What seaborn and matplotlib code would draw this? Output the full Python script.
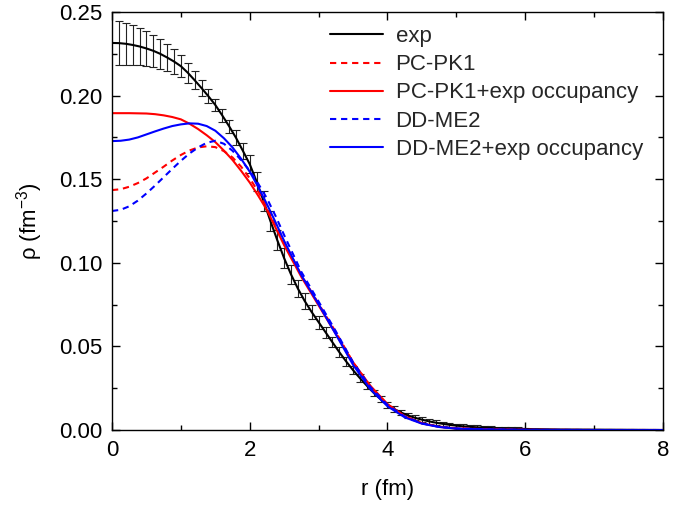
import numpy as np
import pandas as pd
import matplotlib
matplotlib.use("Agg")
import matplotlib.pyplot as plt
import seaborn as sns
from matplotlib.ticker import MultipleLocator, FormatStrFormatter

# experimental density, read every 0.1 fm from 0 to 6 fm
exp_r = np.round(np.arange(0, 6.01, 0.1), 1)
exp_rho = [0.2315, 0.2314, 0.2310, 0.2303, 0.2294, 0.2282, 0.2268, 0.2250, 0.2228, 0.2204,
           0.2176, 0.2137, 0.2092, 0.2045, 0.1996, 0.1944, 0.1882, 0.1817, 0.1748, 0.1670,
           0.1590, 0.1485, 0.1370, 0.1250, 0.1135, 0.1027, 0.0930, 0.0845, 0.0770, 0.0705,
           0.0645, 0.0585, 0.0525, 0.0466, 0.0410, 0.0358, 0.0310, 0.0265, 0.0222, 0.0184,
           0.0151, 0.0125, 0.0104, 0.0087, 0.0073, 0.0062, 0.0052, 0.0044, 0.0037, 0.0031,
           0.0026, 0.0022, 0.0019, 0.0016, 0.0014, 0.0012, 0.0010, 0.0009, 0.0008, 0.0007,
           0.0006]
# tail of the exp curve
exp_tail_r = [6.5, 7.0, 7.5, 8.0]
exp_tail_rho = [0.0003, 0.0002, 0.0001, 0.0]

# error bars from 0.1 fm to 6.0 fm
exp_err = [0.0132, 0.0125, 0.0118, 0.0111, 0.0104, 0.0097, 0.0089, 0.0081, 0.0073, 0.0066,
           0.0059, 0.0053, 0.0047, 0.0042, 0.0038, 0.0038, 0.0040, 0.0044, 0.0049, 0.0053,
           0.0057, 0.0060, 0.0061, 0.0061, 0.0059, 0.0056, 0.0052, 0.0047, 0.0042, 0.0038,
           0.0034, 0.0031, 0.0028, 0.0026, 0.0024, 0.0022, 0.0021, 0.0020, 0.0019, 0.0018,
           0.0017, 0.0016, 0.0016, 0.0015, 0.0015, 0.0014, 0.0014, 0.0013, 0.0013, 0.0012,
           0.0012, 0.0011, 0.0011, 0.0010, 0.0010, 0.0009, 0.0009, 0.0008, 0.0008, 0.0007]

# model curves
r_model = [0, 0.125, 0.25, 0.375, 0.5, 0.625, 0.75, 0.875, 1.0, 1.125, 1.25, 1.375,
           1.5, 1.625, 1.75, 1.875, 2.0, 2.125, 2.25, 2.375, 2.5,
           2.75, 3.0, 3.25, 3.5, 3.75, 4.0, 4.25, 4.5, 4.75, 5.0, 5.5, 6.0, 7.0, 8.0]
pcpk1 = [0.1435, 0.1440, 0.1455, 0.1477, 0.1505, 0.1540, 0.1575, 0.1612, 0.1645, 0.1672,
         0.1690, 0.1697, 0.1692, 0.1668, 0.1630, 0.1575, 0.1505, 0.1425, 0.1335, 0.1232,
         0.1125,
         0.0925, 0.0755, 0.0585, 0.0405, 0.0262, 0.0152, 0.0082, 0.0041, 0.0020, 0.0010,
         0.0004, 0.0001, 0.0, 0.0]
pcpk1_occ = [0.1895, 0.1895, 0.1895, 0.1894, 0.1893, 0.1889, 0.1882, 0.1872, 0.1858, 0.1832,
             0.1800, 0.1763, 0.1722, 0.1671, 0.1615, 0.1550, 0.1480, 0.1400, 0.1315, 0.1210,
             0.1105,
             0.0915, 0.0745, 0.0575, 0.0405, 0.0265, 0.0155, 0.0082, 0.0040, 0.0019, 0.0009,
             0.0003, 0.0001, 0.0, 0.0]
ddme2 = [0.1310, 0.1317, 0.1338, 0.1372, 0.1415, 0.1462, 0.1512, 0.1562, 0.1610, 0.1654,
         0.1690, 0.1718, 0.1730, 0.1712, 0.1670, 0.1615, 0.1550, 0.1472, 0.1385, 0.1280,
         0.1165,
         0.0945, 0.0768, 0.0590, 0.0405, 0.0258, 0.0150, 0.0080, 0.0040, 0.0019, 0.0009,
         0.0003, 0.0001, 0.0, 0.0]
ddme2_occ = [0.1728, 0.1730, 0.1737, 0.1750, 0.1768, 0.1786, 0.1803, 0.1818, 0.1828, 0.1834,
             0.1832, 0.1818, 0.1790, 0.1745, 0.1690, 0.1622, 0.1545, 0.1452, 0.1350, 0.1242,
             0.1130,
             0.0925, 0.0752, 0.0572, 0.0390, 0.0245, 0.0142, 0.0076, 0.0038, 0.0018, 0.0008,
             0.0003, 0.0001, 0.0, 0.0]

sns.set_theme(style="ticks")
plt.rcParams['font.family'] = ['Liberation Sans', 'DejaVu Sans']
plt.rcParams['mathtext.default'] = 'regular'

fig, ax = plt.subplots(figsize=(6.94, 5.05), dpi=100)
fig.subplots_adjust(left=0.1614, right=0.9553, top=0.9762, bottom=0.1485)

ax.errorbar(exp_r[1:], exp_rho[1:], yerr=exp_err, fmt='none', ecolor='#222222',
            elinewidth=0.8, capsize=3, capthick=0.8, zorder=2)

dash = (0, (3, 2.3))
sns.lineplot(x=list(exp_r) + exp_tail_r, y=exp_rho + exp_tail_rho, color='black',
             lw=1.5, label='exp', ax=ax)
sns.lineplot(x=r_model, y=pcpk1, color='#ff0000', lw=1.5, linestyle=dash,
             label='PC-PK1', ax=ax)
sns.lineplot(x=r_model, y=pcpk1_occ, color='#ff0000', lw=1.5,
             label='PC-PK1+exp occupancy', ax=ax)
sns.lineplot(x=r_model, y=ddme2, color='#0000ff', lw=1.5, linestyle=dash,
             label='DD-ME2', ax=ax)
sns.lineplot(x=r_model, y=ddme2_occ, color='#0000ff', lw=1.5,
             label='DD-ME2+exp occupancy', ax=ax)

ax.set_xlim(0, 8)
ax.set_ylim(0, 0.25)
ax.xaxis.set_major_locator(MultipleLocator(2))
ax.xaxis.set_minor_locator(MultipleLocator(1))
ax.yaxis.set_major_locator(MultipleLocator(0.05))
ax.yaxis.set_minor_locator(MultipleLocator(0.025))
ax.yaxis.set_major_formatter(FormatStrFormatter('%.2f'))
ax.tick_params(which='both', direction='in', top=True, right=True, width=1,
               color='black', labelcolor='black', labelsize=16, pad=7)
ax.tick_params(which='major', length=6)
ax.tick_params(which='minor', length=3.5)
for s in ax.spines.values():
    s.set_linewidth(1.0)
    s.set_color('black')

ax.set_xlabel('r (fm)', fontsize=16, color='black', labelpad=13)
ax.set_ylabel('ρ (fm$^{-3}$)', fontsize=16, color='black', labelpad=10)

ax.legend(loc='upper left', bbox_to_anchor=(0.3956, 0.966), frameon=False,
          fontsize=16, handlelength=2.4, handletextpad=0.55, labelspacing=0.32,
          borderpad=0, borderaxespad=0)

fig.savefig('out.png', dpi=100)
